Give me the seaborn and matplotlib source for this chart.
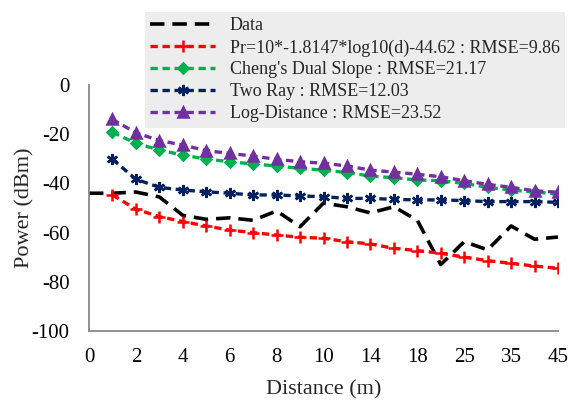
import numpy as np
import pandas as pd
import matplotlib
matplotlib.use("Agg")
import matplotlib.pyplot as plt
import seaborn as sns

# Category axis: distances (m); tick labels every other category
distances = [0, 1, 2, 3, 4, 5, 6, 7, 8, 9, 10, 12, 14, 16, 18, 20, 25, 30, 35, 40, 45]
tick_labels = ["0", "2", "4", "6", "8", "10", "14", "18", "25", "35", "45"]

data_vals = [-44, -44, -43.5, -45.5, -53, -54.6, -54, -55, -51.2, -57.6, -48,
             -49.5, -52, -49.5, -55, -73, -63.7, -67, -57.3, -62.7, -61.8]
pr_vals = [np.nan, -44.7, -50.5, -53.5, -55.5, -57.3, -59, -60, -61, -61.9, -62.3,
           -63.7, -64.6, -66.4, -67.3, -68.4, -70, -71.4, -72.5, -73.6, -74.5]
cheng_vals = [np.nan, -19.2, -23.7, -26.4, -28.5, -30.1, -31.2, -32.1, -32.9, -33.9, -34.6,
              -35.6, -37, -37.7, -38.6, -38.9, -40, -41.6, -42.7, -43.5, -44.3]
tworay_vals = [np.nan, -30.2, -38.3, -41.6, -42.7, -43.4, -44, -44.7, -44.7, -45.1, -45.4,
               -46.1, -46.1, -46.5, -46.7, -46.7, -47, -47.4, -47.4, -47.4, -47.7]
logd_vals = [np.nan, -14, -19.4, -22.6, -24.4, -26.7, -27.8, -28.9, -30.2, -31.2, -31.8,
             -32.9, -34.6, -35.4, -36.3, -37.3, -38.9, -40.4, -41.6, -43, -43.6]

labels = ["Data",
          "Pr=10*-1.8147*log10(d)-44.62 : RMSE=9.86",
          "Cheng's Dual Slope : RMSE=21.17",
          "Two Ray : RMSE=12.03",
          "Log-Distance : RMSE=23.52"]

sns.set_style("white")
plt.rcParams["font.family"] = ["Liberation Serif", "DejaVu Serif"]

pos = np.arange(len(distances))
df = pd.DataFrame({"pos": pos, "data": data_vals, "pr": pr_vals, "cheng": cheng_vals,
                   "tworay": tworay_vals, "logd": logd_vals})

fig = plt.figure(figsize=(5.77, 4.12), dpi=100)
ax = fig.add_axes([89/577, 1-331/412, (558-89)/577, (331-85)/412])

specs = [
    ("data", "black", None, (0, (4, 2.2)), 2.6, 0),
    ("pr", "#ff0000", "+", (0, (2.2, 1.4)), 2.4, 8),
    ("cheng", "#00b050", "D", (0, (2.2, 1.4)), 2.4, 5.5),
    ("tworay", "#002060", (6, 2, 0), (0, (2.2, 1.4)), 2.4, 8),
    ("logd", "#7030a0", "^", (0, (2.2, 1.4)), 2.4, 7),
]
for (col, color, marker, ls, lw, ms), lab in zip(specs, labels):
    sub = df[["pos", col]].dropna()
    sns.lineplot(data=sub, x="pos", y=col, ax=ax, color=color, marker=marker,
                 linestyle=ls, linewidth=lw, markersize=ms, markeredgewidth=1.8,
                 markeredgecolor=color, markerfacecolor=color, label=lab,
                 legend=False)

ax.set_xlim(0, 20)
ax.set_ylim(-100, 0)
ax.set_xticks(np.arange(0, 21, 2))
ax.set_xticklabels(tick_labels)
ax.set_yticks(np.arange(-100, 1, 20))
ax.set_yticklabels([str(v) for v in range(-100, 1, 20)])
for s in ["top", "right"]:
    ax.spines[s].set_visible(False)
for s in ["left", "bottom"]:
    ax.spines[s].set_color("#888888")
    ax.spines[s].set_linewidth(1.3)
ax.tick_params(axis="both", direction="in", length=5, width=1.2, color="#888888",
               labelsize=15, labelcolor="black")
ax.tick_params(axis="y", pad=14)
ax.tick_params(axis="x", pad=12)
ax.set_xlabel("Distance (m)", fontsize=16, labelpad=10)
ax.set_ylabel("Power (dBm)", fontsize=16, labelpad=-2)

handles, labs = ax.get_legend_handles_labels()
leg = fig.legend(handles, labs, loc="upper left",
                 bbox_to_anchor=(145/577, 1-12/412), frameon=True,
                 fontsize=13, handlelength=3.6, handletextpad=0.8,
                 labelspacing=0.27, borderpad=0.3, numpoints=1,
                 fancybox=False, borderaxespad=0)
leg.get_frame().set_facecolor("#e9e9e9")
leg.get_frame().set_edgecolor("none")

fig.savefig("out.png", dpi=100)
